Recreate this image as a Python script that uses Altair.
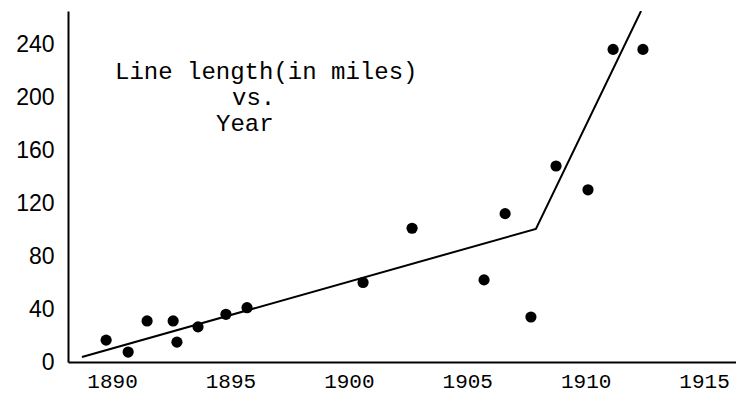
import altair as alt
import pandas as pd

# Observed points (year, line length in miles)
years = [1889.75, 1890.68, 1891.48, 1892.58, 1892.74, 1893.63, 1894.81, 1895.70,
         1900.6, 1902.67, 1905.71, 1906.6, 1907.69, 1908.75, 1910.1, 1911.16, 1912.42]
miles = [16.5, 7.5, 31, 31, 15, 26.5, 36, 41,
         60, 101, 62, 112, 34, 148, 130, 236, 236]

# Piecewise linear fit
fit_years = [1888.73, 1907.9, 1912.34]
fit_miles = [3.75, 100.5, 265]

x_ticks = [1890, 1895, 1900, 1905, 1910, 1915]
y_ticks = [0, 40, 80, 120, 160, 200, 240]

title_lines = ["Line length(in miles)", "vs.", "Year"]

pts = pd.DataFrame({"year": years, "miles": miles})
fit = pd.DataFrame({"year": fit_years, "miles": fit_miles})

xs = alt.Scale(domain=[1888.14, 1916.35], nice=False, zero=False)
ys = alt.Scale(domain=[0, 265], nice=False)

x_axis = alt.Axis(values=x_ticks, format="d", title=None, grid=False, ticks=False,
                  domainColor="black", domainWidth=2, labelFont="Liberation Mono",
                  labelFontSize=21, labelColor="black", labelPadding=8)
y_axis = alt.Axis(values=y_ticks, format="d", title=None, grid=False, ticks=False,
                  domainColor="black", domainWidth=2, labelFont="Liberation Sans",
                  labelFontSize=23, labelColor="black", labelPadding=14)

points = alt.Chart(pts).mark_circle(color="black", opacity=1, size=125).encode(
    x=alt.X("year:Q", scale=xs, axis=x_axis),
    y=alt.Y("miles:Q", scale=ys, axis=y_axis),
)

line = alt.Chart(fit).mark_line(color="black", strokeWidth=2, clip=True).encode(
    x=alt.X("year:Q", scale=xs),
    y=alt.Y("miles:Q", scale=ys),
)


def label(text, px, py):
    return alt.Chart(pd.DataFrame({"t": [text]})).mark_text(
        font="Liberation Mono", fontSize=24, align="left", baseline="middle", color="black"
    ).encode(text="t:N", x=alt.value(px), y=alt.value(py))


t1 = label(title_lines[0], 47, 61)
t2 = label(title_lines[1], 164, 87)
t3 = label(title_lines[2], 148, 113)

chart = alt.layer(line, points, t1, t2, t3).properties(
    width=668, height=351,
    autosize=alt.AutoSizeParams(type="none"),
    padding={"left": 60, "top": 3, "right": 0, "bottom": 33},
    background="white",
).configure_view(stroke=None)

chart.save("out.html", embed_options={"renderer": "svg", "actions": False})
